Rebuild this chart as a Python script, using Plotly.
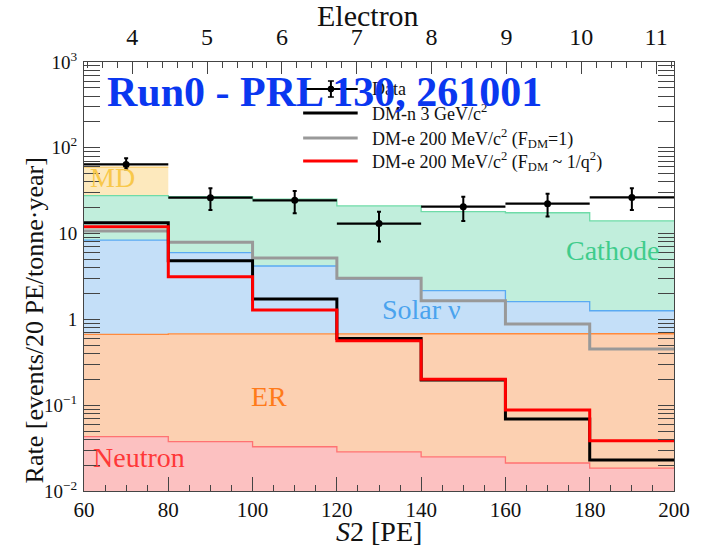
import numpy as np
import plotly.graph_objects as go

# S2 binning [PE]
bin_edges = [60, 80, 100, 120, 140, 160, 180, 200]
bin_centers = [70, 90, 110, 130, 150, 170, 190]

# Background components (stacked), events / 20 PE / tonne / year
neutron = [0.043, 0.0376, 0.0328, 0.0285, 0.025, 0.0212, 0.0185]
er = [0.627, 0.642, 0.647, 0.651, 0.655, 0.659, 0.662]
solar_nu = [7.73, 5.32, 3.51, 2.27, 1.48, 0.93, 0.58]
cathode = [19.3, 21.0, 21.0, 18.05, 15.84, 15.89, 12.84]
md = [31.6, 0, 0, 0, 0, 0, 0]

# Signal models
dm_n_3gev = [13.4, 4.83, 1.73, 0.60, 0.197, 0.069, 0.023]
dm_e_fdm1 = [10.7, 7.93, 5.2, 3.01, 1.65, 0.883, 0.452]
dm_e_fdmq2 = [12.0, 3.15, 1.29, 0.565, 0.20, 0.088, 0.0386]

# Observed data with asymmetric uncertainties
data_rate = [64.0, 26.2, 24.4, 13.1, 20.6, 22.3, 26.4]
data_upper = [75.5, 33.7, 31.4, 18.0, 26.9, 29.1, 33.8]
data_lower = [56.2, 18.8, 17.3, 8.1, 14.0, 15.8, 18.8]

# Top axis: S2 expressed in number of extracted electrons
electron_ticks = [4, 5, 6, 7, 8, 9, 10, 11]
electron_range = [3.355, 11.239]

SERIF = "Liberation Serif"

# plot-area geometry in pixels
W, H = 702, 549
L, R, T, B = 84, 23, 62, 58


def px(xp):
    return (xp - L) / (W - L - R)


def py(yp):
    return (H - B - yp) / (H - T - B)


def steps(vals):
    return list(vals) + [vals[-1]]


fig = go.Figure()

# stacked background bands
components = [
    ("Neutron", neutron, "#fcc1c1", "#ff7272"),
    ("ER", er, "#fcd0b1", "#ff8a3d"),
    ("Solar", solar_nu, "#c4dff8", "#5aaaf2"),
    ("Cathode", cathode, "#c1eedc", "#6fdba8"),
    ("MD", md, "#fde9bd", "#fbd27a"),
]
cum = np.zeros(len(bin_centers))
floor = np.full(len(bin_centers), 1e-5)
fig.add_trace(go.Scatter(x=bin_edges, y=steps(floor), mode="lines",
                         line=dict(width=0, shape="hv"), showlegend=False,
                         hoverinfo="skip"))
tops = []
for name, vals, fill, edge in components:
    cum = cum + np.array(vals)
    tops.append((name, vals, cum.copy(), edge))
    fig.add_trace(go.Scatter(x=bin_edges, y=steps(cum), mode="lines",
                             line=dict(width=0, shape="hv"), fill="tonexty",
                             fillcolor=fill, showlegend=False, hoverinfo="skip"))

# outline of each band
for name, vals, top, edge in tops:
    nz = [i for i, v in enumerate(vals) if v > 0]
    xs = bin_edges[nz[0]:nz[-1] + 2]
    ys = steps(top[nz[0]:nz[-1] + 1])
    fig.add_trace(go.Scatter(x=xs, y=ys, mode="lines",
                             line=dict(width=1.3, color=edge, shape="hv"),
                             showlegend=False, hoverinfo="skip"))

# signal models
for vals, col in [(dm_e_fdm1, "#999999"), (dm_n_3gev, "#000000"),
                  (dm_e_fdmq2, "#ff0000")]:
    fig.add_trace(go.Scatter(x=bin_edges, y=steps(vals), mode="lines",
                             line=dict(width=3, color=col, shape="hv"),
                             showlegend=False, hoverinfo="skip"))

# data
rate = np.array(data_rate)
fig.add_trace(go.Scatter(
    x=bin_centers, y=data_rate, mode="markers",
    marker=dict(color="black", size=7),
    error_y=dict(type="data", symmetric=False,
                 array=list(np.array(data_upper) - rate),
                 arrayminus=list(rate - np.array(data_lower)),
                 color="black", thickness=2, width=2),
    error_x=dict(type="constant", value=10, color="black", thickness=2.2, width=0),
    showlegend=False, hoverinfo="skip"))

# carrier for the top (electron) axis
fig.add_trace(go.Scatter(x=electron_range, y=[1, 1], xaxis="x2", mode="none",
                         showlegend=False, hoverinfo="skip"))

axis_col = "#444444"
fig.update_layout(
    width=W, height=H,
    margin=dict(l=L, r=R, t=T, b=B),
    paper_bgcolor="white", plot_bgcolor="white",
    font=dict(family=SERIF, color="#111111"),
    xaxis=dict(range=[60, 200], tickmode="array", tickvals=bin_edges,
               ticks="inside", ticklen=14, tickwidth=1, tickcolor=axis_col,
               minor=dict(ticks="inside", ticklen=6, dtick=5, tickcolor=axis_col),
               showline=True, linecolor=axis_col, linewidth=1, mirror=False,
               showgrid=False, zeroline=False,
               tickfont=dict(size=21, family=SERIF, color="#111")),
    xaxis2=dict(range=electron_range, overlaying="x", side="top",
                tickmode="array", tickvals=electron_ticks,
                ticks="inside", ticklen=12, tickcolor=axis_col,
                minor=dict(ticks="inside", ticklen=6, dtick=0.2, tickcolor=axis_col),
                showline=True, linecolor=axis_col, linewidth=1,
                showgrid=False, zeroline=False, ticklabelstandoff=6,
                tickfont=dict(size=24, family=SERIF, color="#111")),
    yaxis=dict(type="log", range=[-2, 3],
               tickmode="array", tickvals=[0.01, 0.1, 1, 10, 100, 1000],
               ticktext=["10<sup>\u22122</sup>", "10<sup>\u22121</sup>", "1",
                         "10", "10<sup>2</sup>", "10<sup>3</sup>"],
               ticks="inside", ticklen=16, tickcolor=axis_col,
               minor=dict(ticks="inside", ticklen=8, dtick="D1", tickcolor=axis_col),
               showline=True, linecolor=axis_col, linewidth=1, mirror="allticks",
               showgrid=False, zeroline=False, ticklabelstandoff=2,
               tickfont=dict(size=19, family=SERIF, color="#111")),
)

ann = []
# band labels
for text, x, y, col in [("MD", 60.9, 44.5, "#f8c84a"),
                        ("Cathode", 185.4, 6.44, "#3fcc8c"),
                        ("Solar \u03bd", 140.2, 1.29, "#4aa3ee"),
                        ("ER", 104.0, 0.125, "#ff7a1a"),
                        ("Neutron", 73.0, 0.0243, "#ff3838")]:
    ann.append(dict(text=text, x=x, y=np.log10(y), xref="x", yref="y",
                    xanchor="left" if text == "MD" else "center", yanchor="middle",
                    showarrow=False, font=dict(size=28, family=SERIF, color=col)))

# axis titles
ann.append(dict(text="Rate [events/20 PE/tonne\u00b7year]", x=px(34), y=py(320),
                xref="paper", yref="paper", textangle=-90, showarrow=False,
                xanchor="center", yanchor="middle",
                font=dict(size=26, family=SERIF, color="#111")))
ann.append(dict(text="<i>S</i>2 [PE]", x=px(381), y=py(531), xref="paper",
                yref="paper", showarrow=False, xanchor="center", yanchor="middle",
                font=dict(size=28, family=SERIF, color="#111")))
ann.append(dict(text="Electron", x=px(370), y=py(15), xref="paper", yref="paper",
                showarrow=False, xanchor="center", yanchor="middle",
                font=dict(size=30, family=SERIF, color="#111")))

# legend
shapes = []
leg_x0, leg_x1, leg_text = 305, 360, 372
legend_rows = [(89, "Data", None),
               (113, "DM-n 3 GeV/c<sup>2</sup>", "#000000"),
               (138, "DM-e 200 MeV/c<sup>2</sup> (F<sub>DM</sub>=1)", "#999999"),
               (161, "DM-e 200 MeV/c<sup>2</sup> (F<sub>DM</sub> ~ 1/q<sup>2</sup>)", "#ff0000")]
for yl, text, col in legend_rows:
    if col is None:
        shapes.append(dict(type="line", xref="paper", yref="paper",
                           x0=px(leg_x0), x1=px(leg_x1), y0=py(yl), y1=py(yl),
                           line=dict(color="black", width=2)))
        shapes.append(dict(type="line", xref="paper", yref="paper",
                           x0=px(333), x1=px(333), y0=py(81), y1=py(97),
                           line=dict(color="black", width=2)))
        for yc in (81, 97):
            shapes.append(dict(type="line", xref="paper", yref="paper",
                               x0=px(330), x1=px(336), y0=py(yc), y1=py(yc),
                               line=dict(color="black", width=1.5)))
        shapes.append(dict(type="circle", xref="paper", yref="paper",
                           x0=px(330), x1=px(336), y0=py(86), y1=py(92),
                           fillcolor="black", line=dict(color="black", width=1)))
    else:
        shapes.append(dict(type="line", xref="paper", yref="paper",
                           x0=px(leg_x0), x1=px(leg_x1), y0=py(yl), y1=py(yl),
                           line=dict(color=col, width=3)))
    ann.append(dict(text=text, x=px(leg_text), y=py(yl), xref="paper", yref="paper",
                    xanchor="left", yanchor="middle", showarrow=False,
                    font=dict(size=18, family=SERIF, color="#111")))

# headline
ann.append(dict(text="<b>Run0 - PRL 130, 261001</b>", x=px(105), y=py(92),
                xref="paper", yref="paper", xanchor="left", yanchor="middle",
                showarrow=False, font=dict(size=42, family=SERIF, color="#0a37f0")))

fig.update_layout(annotations=ann, shapes=shapes)
fig.write_html("out.html")
